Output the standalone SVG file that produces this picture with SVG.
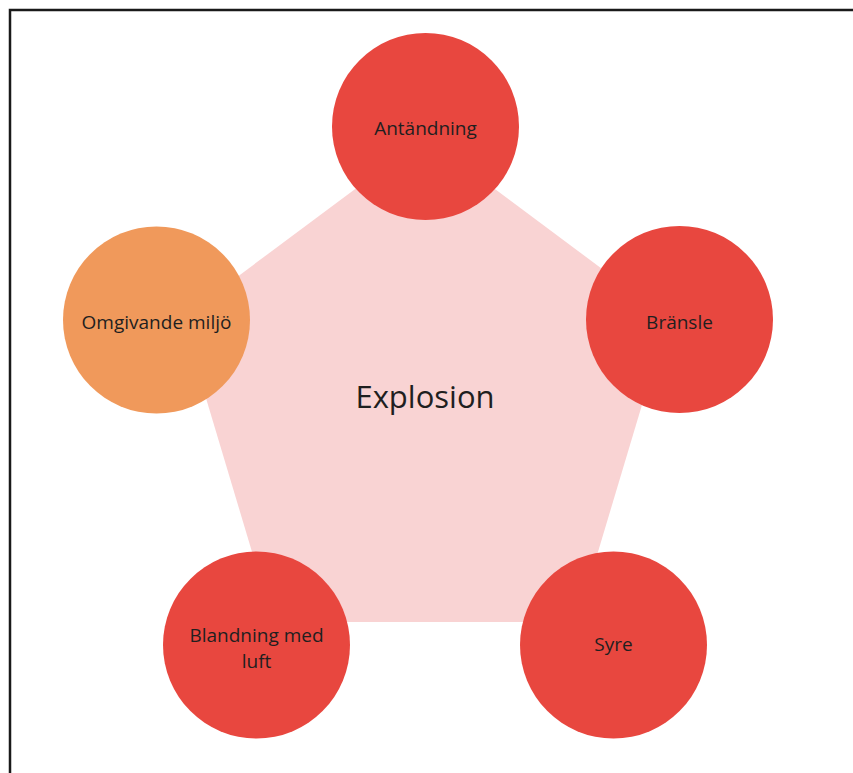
<svg xmlns="http://www.w3.org/2000/svg" width="853" height="773" viewBox="0 0 853 773">
<style>
.red{fill:#E8473F}
.orange{fill:#F0995B}
.lbl{font-family:"Open Sans","Noto Sans",sans-serif;font-size:19px;fill:#1f1f1f;text-anchor:middle}
.big{font-family:"Open Sans","Noto Sans",sans-serif;font-size:31px;fill:#1f1f1f;text-anchor:middle}
</style>
<rect x="0" y="0" width="853" height="773" fill="#ffffff"/>
<path d="M10 790 V10 H870" fill="none" stroke="#1a1a1a" stroke-width="2.5"/>
<g id="connectors"></g>
<g id="explosion">
<polygon points="425,137 668,318 577,622 273,622 182,318" fill="#F9D3D3"/>
<text class="big" x="425" y="408">Explosion</text>
</g>
<g id="antandning">
<circle class="red" cx="425.5" cy="126.5" r="93.5"/>
<text class="lbl" x="425.5" y="135">Antändning</text>
</g>
<g id="bransle">
<circle class="red" cx="679.5" cy="319.5" r="93.5"/>
<text class="lbl" x="679.5" y="329">Bränsle</text>
</g>
<g id="syre">
<circle class="red" cx="613.5" cy="645" r="93.5"/>
<text class="lbl" x="613.5" y="651">Syre</text>
</g>
<g id="blandning">
<circle class="red" cx="256.5" cy="645" r="93.5"/>
<text class="lbl" x="256.5" y="642">Blandning med</text>
<text class="lbl" x="256.5" y="668">luft</text>
</g>
<g id="omgivande">
<circle class="orange" cx="156.5" cy="320" r="93.5"/>
<text class="lbl" x="156.5" y="329">Omgivande miljö</text>
</g>
</svg>
